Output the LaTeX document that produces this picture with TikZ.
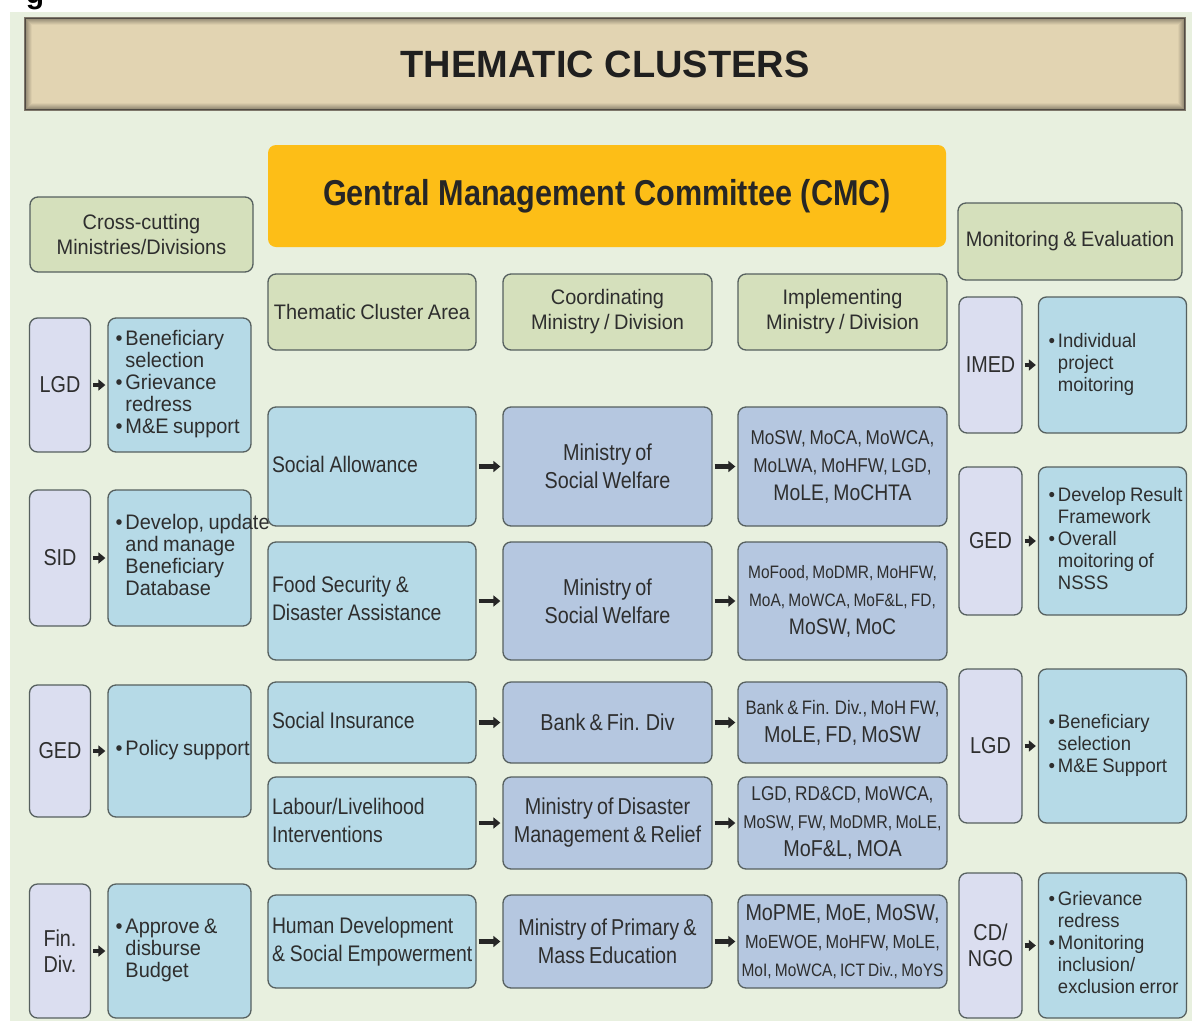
\documentclass[tikz,border=0pt]{standalone}
\usepackage{fontspec}
\setmainfont{Liberation Sans}
\newfontfamily\bodyfont[FakeStretch=0.86, WordSpace=0.75]{Liberation Sans}
\newfontfamily\notefont[FakeStretch=0.95, WordSpace=0.8]{Liberation Sans}
\newfontfamily\cmcfont[FakeStretch=0.85]{Liberation Sans}
\usetikzlibrary{arrows.meta}

\definecolor{pagebg}{HTML}{E8F0DF}
\definecolor{titlebg}{HTML}{E2D4B2}
\definecolor{titleedge}{HTML}{7E776A}
\definecolor{cmcbg}{HTML}{FDBE17}
\definecolor{headbg}{HTML}{D5E0BC}
\definecolor{lavbg}{HTML}{DBDEF0}
\definecolor{bluebg}{HTML}{B6DAE7}
\definecolor{minbg}{HTML}{B5C7E0}
\definecolor{edge}{HTML}{56605F}
\definecolor{ink}{HTML}{2E2E2E}

% bullet list that may run past the right border of its box
\def\pts#1{\makebox[128pt][l]{\begin{tabular}{@{}l@{\hspace{3pt}}l@{}}#1\end{tabular}}}
% left-set lines with a fixed word space
\def\lines#1{\spaceskip=5pt\relax\begin{tabular}{@{}l@{}}#1\end{tabular}}
\def\sz#1{\fontsize{#1}{28}\selectfont}

\tikzset{
  box/.style={draw=edge, line width=1.3pt, rounded corners=8pt, text=ink},
  headbox/.style={box, fill=headbg, inner xsep=2pt, align=center, font=\notefont\fontsize{21}{25}\selectfont},
  orgbox/.style={box, fill=lavbg, inner xsep=1pt, align=center, font=\bodyfont\fontsize{23}{26}\selectfont},
  notebox/.style={box, fill=bluebg, inner xsep=7pt, minimum width=143pt, font=\notefont\fontsize{21}{22}\selectfont},
  mebox/.style={notebox, inner xsep=10pt, font=\notefont\fontsize{19.5}{22}\selectfont},
  areabox/.style={box, fill=bluebg, text width=200pt, inner xsep=4pt, align=left, font=\bodyfont\fontsize{22.5}{28}\selectfont},
  minbox/.style={box, fill=minbg, inner xsep=2pt, minimum width=209pt, align=center, font=\bodyfont\fontsize{23}{28}\selectfont},
  arr/.style={-{Triangle[length=7pt,width=11pt]}, line width=4.5pt, draw=black!85, shorten <=2pt, shorten >=2pt},
}

\begin{document}
\begin{tikzpicture}[x=1pt, y=-1pt]
		%%%%% START %%%%%
		\useasboundingbox (0,0) rectangle (1192,1021);
		\fill[white] (0,0) rectangle (1192,1021);
		\fill[pagebg] (10,12) rectangle (1192,1021);
		\node[anchor=base, font=\bfseries\fontsize{30}{30}\selectfont] (figg) at (35,3) {g};
		
		% title bar
		\node[fill=titlebg, draw=titleedge, line width=1.5pt, minimum width=1160pt, minimum height=92pt,
		      font=\bfseries\fontsize{38}{40}\selectfont, text=black!88] (title) at (605,64) {THEMATIC CLUSTERS};
		\foreach \k [evaluate=\k as \op using 0.42-0.055*\k] in {1,...,7}
			\draw[draw=black, opacity=\op, line width=1pt]
				([xshift=\k pt, yshift=-\k pt]title.north west) rectangle ([xshift=-\k pt, yshift=\k pt]title.south east);
		
		\node[fill=cmcbg, rounded corners=8pt, minimum width=678pt, minimum height=102pt,
		      font=\cmcfont\bfseries\fontsize{36}{40}\selectfont, text=black!85] (cmc) at (607,196) {Gentral Management Committee (CMC)};
		
		% cross-cutting ministries
		\node[headbox, minimum width=223pt, minimum height=75pt] (cross) at (141.5,234.5) {Cross-cutting\\Ministries/Divisions};
		
		\node[orgbox, minimum width=61pt, minimum height=134pt] (lgdL) at (60,385) {LGD};
		\node[orgbox, minimum width=61pt, minimum height=136pt] (sidL) at (60,558) {SID};
		\node[orgbox, minimum width=61pt, minimum height=132pt] (gedL) at (60,751) {GED};
		\node[orgbox, minimum width=61pt, minimum height=134pt] (finL) at (60,951) {Fin.\\Div.};
		
		\node[notebox, minimum height=134pt] (lgdLn) at (179.5,385) {\pts{\textbullet & Beneficiary\\ & selection\\ \textbullet & Grievance\\ & redress\\ \textbullet & M\&E support}};
		\node[notebox, minimum height=136pt] (sidLn) at (179.5,558) {\pts{\textbullet & Develop, update\\ & and manage\\ & Beneficiary\\ & Database}};
		\node[notebox, minimum height=132pt] (gedLn) at (179.5,751) {\pts{\textbullet & Policy support}};
		\node[notebox, minimum height=134pt] (finLn) at (179.5,951) {\pts{\textbullet & Approve \&\\ & disburse\\ & Budget}};
		
		\draw[arr] (lgdL) -- (lgdLn);
		\draw[arr] (sidL) -- (sidLn);
		\draw[arr] (gedL) -- (gedLn);
		\draw[arr] (finL) -- (finLn);
		
		% cluster table
		\node[headbox, minimum width=208pt, minimum height=76pt] (areaH) at (372,312) {Thematic Cluster Area};
		\node[headbox, minimum width=209pt, minimum height=76pt] (coordH) at (607.5,312) {Coordinating\\Ministry / Division};
		\node[headbox, minimum width=209pt, minimum height=76pt] (implH) at (842.5,312) {Implementing\\Ministry / Division};
		
		\node[areabox, minimum height=119pt] (sa) at (372,466.5) {\lines{Social Allowance}};
		\node[areabox, minimum height=118pt] (fs) at (372,601) {\lines{Food Security \&\\Disaster Assistance}};
		\node[areabox, minimum height=81pt] (si) at (372,722.5) {\lines{Social Insurance}};
		\node[areabox, minimum height=92pt] (ll) at (372,823) {\lines{Labour/Livelihood\\Interventions}};
		\node[areabox, minimum height=93pt] (hd) at (372,941.5) {\lines{Human Development\\\& Social Empowerment}};
		
		\node[minbox, minimum height=119pt] (saC) at (607.5,466.5) {Ministry of\\Social Welfare};
		\node[minbox, minimum height=118pt] (fsC) at (607.5,601) {Ministry of\\Social Welfare};
		\node[minbox, minimum height=81pt] (siC) at (607.5,722.5) {Bank \& Fin. Div};
		\node[minbox, minimum height=92pt] (llC) at (607.5,823) {Ministry of Disaster\\Management \& Relief};
		\node[minbox, minimum height=93pt] (hdC) at (607.5,941.5) {Ministry of Primary \&\\Mass Education};
		
		\node[minbox, minimum height=119pt] (saI) at (842.5,466.5) {{\sz{20}MoSW, MoCA, MoWCA,}\\{\sz{20}MoLWA, MoHFW, LGD,}\\{\sz{22.5}MoLE, MoCHTA}};
		\node[minbox, minimum height=118pt] (fsI) at (842.5,601) {{\sz{18}MoFood, MoDMR, MoHFW,}\\{\sz{18}MoA, MoWCA, MoF\&L, FD,}\\{\sz{22.5}MoSW, MoC}};
		\node[minbox, minimum height=81pt] (siI) at (842.5,722.5) {{\sz{19.5}Bank \& Fin. Div., MoH FW,}\\{\sz{23}MoLE, FD, MoSW}};
		\node[minbox, minimum height=92pt] (llI) at (842.5,823) {{\sz{20}LGD, RD\&CD, MoWCA,}\\{\sz{18.5}MoSW, FW, MoDMR, MoLE,}\\{\sz{23}MoF\&L, MOA}};
		\node[minbox, minimum height=93pt] (hdI) at (842.5,941.5) {{\sz{23}MoPME, MoE, MoSW,}\\{\sz{19}MoEWOE, MoHFW, MoLE,}\\{\sz{18}MoI, MoWCA, ICT Div., MoYS}};
		
		\foreach \r in {sa,fs,si,ll,hd} {
			\draw[arr] (\r) -- (\r C);
			\draw[arr] (\r C) -- (\r I);
		}
		
		% monitoring and evaluation
		\node[headbox, minimum width=224pt, minimum height=77pt] (me) at (1070,241.5) {Monitoring \& Evaluation};
		
		\node[orgbox, minimum width=63pt, minimum height=136pt] (imedR) at (990.5,365) {IMED};
		\node[orgbox, minimum width=63pt, minimum height=148pt] (gedR) at (990.5,541) {GED};
		\node[orgbox, minimum width=63pt, minimum height=154pt] (lgdR) at (990.5,746) {LGD};
		\node[orgbox, minimum width=63pt, minimum height=145pt] (ngoR) at (990.5,945.5) {CD/\\NGO};
		
		\node[mebox, minimum height=136pt] (imedRn) at (1112.5,365) {\pts{\textbullet & Individual\\ & project\\ & moitoring}};
		\node[mebox, minimum height=148pt] (gedRn) at (1112.5,541) {\pts{\textbullet & Develop Result\\ & Framework\\ \textbullet & Overall\\ & moitoring of\\ & NSSS}};
		\node[mebox, minimum height=154pt] (lgdRn) at (1112.5,746) {\pts{\textbullet & Beneficiary\\ & selection\\ \textbullet & M\&E Support}};
		\node[mebox, minimum height=145pt] (ngoRn) at (1112.5,945.5) {\pts{\textbullet & Grievance\\ & redress\\ \textbullet & Monitoring\\ & inclusion/\\ & exclusion error}};
		
		\draw[arr] (imedR) -- (imedRn);
		\draw[arr] (gedR) -- (gedRn);
		\draw[arr] (lgdR) -- (lgdRn);
		\draw[arr] (ngoR) -- (ngoRn);
		%%%%% END %%%%%
\end{tikzpicture}
\end{document}
